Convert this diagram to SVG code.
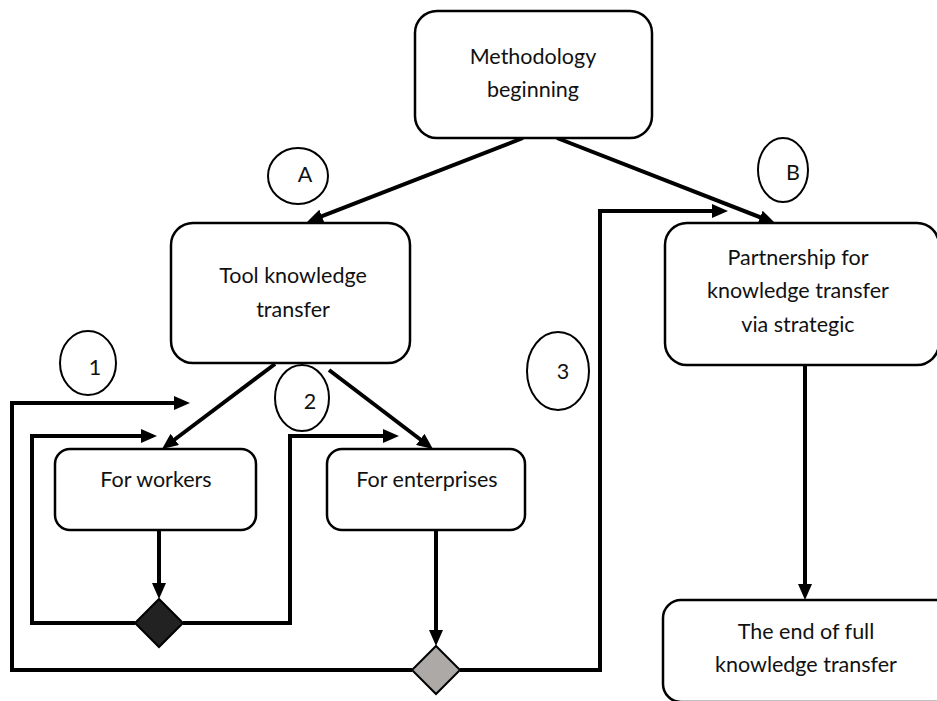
<svg xmlns="http://www.w3.org/2000/svg" width="937" height="701" viewBox="0 0 937 701">
  <style>
    .box { fill: #ffffff; stroke: #000000; stroke-width: 2.5; }
    .tag { fill: #ffffff; stroke: #000000; stroke-width: 2; }
    .lbl { font-family: Lato, "Open Sans", "Liberation Sans", sans-serif; font-size: 21.5px; fill: #111111; text-anchor: middle; }
    .flow { fill: none; stroke: #000000; stroke-width: 4; stroke-linejoin: miter; marker-end: url(#head); }
    .dec-dark { fill: #222222; stroke: #000000; stroke-width: 2; }
    .dec-grey { fill: #aca9a7; stroke: #000000; stroke-width: 2; }
  </style>
  <defs>
    <marker id="head" markerUnits="userSpaceOnUse" markerWidth="16" markerHeight="14" refX="6" refY="7" orient="auto">
      <path d="M0,0 L16,7 L0,14 z" fill="#000000"/>
    </marker>
  </defs>

  <rect width="937" height="701" fill="#ffffff"/>

  <!-- connectors -->
  <g id="connectors">
    <path class="flow" d="M523,138 L316.3,218.4"/>
    <path class="flow" d="M557,138 L765.7,219.4"/>
    <path class="flow" d="M275,364 L170,443"/>
    <path class="flow" d="M329,370 L425,443"/>
    <path class="flow" d="M159,530 V589"/>
    <path class="flow" d="M436,530 V636"/>
    <path class="flow" d="M805,365 V590"/>
    <path class="flow" d="M135,623 H32 V436 H147"/>
    <path class="flow" d="M183,623 H290 V436 H389"/>
    <path class="flow" d="M412,670 H12 V403 H180"/>
    <path class="flow" d="M460,670 H600 V211 H718"/>
  </g>

  <!-- nodes -->
  <g id="methodology-beginning">
    <rect class="box" x="415" y="11" width="237" height="127" rx="22"/>
    <text class="lbl" x="533" y="64">Methodology</text>
    <text class="lbl" x="533" y="97">beginning</text>
  </g>

  <g id="tool-knowledge-transfer">
    <rect class="box" x="171" y="223" width="239" height="140" rx="22"/>
    <text class="lbl" x="293" y="283">Tool knowledge</text>
    <text class="lbl" x="293" y="317">transfer</text>
  </g>

  <g id="partnership">
    <rect class="box" x="665" y="223" width="274" height="142" rx="22"/>
    <text class="lbl" x="798" y="265">Partnership for</text>
    <text class="lbl" x="798" y="298">knowledge transfer</text>
    <text class="lbl" x="798" y="332">via strategic</text>
  </g>

  <g id="for-workers">
    <rect class="box" x="55" y="449" width="201" height="81" rx="15"/>
    <text class="lbl" x="156" y="487">For workers</text>
  </g>

  <g id="for-enterprises">
    <rect class="box" x="327" y="449" width="198" height="81" rx="15"/>
    <text class="lbl" x="427" y="487">For enterprises</text>
  </g>

  <g id="end-of-transfer">
    <rect class="box" x="663" y="600" width="290" height="102" rx="18"/>
    <text class="lbl" x="806" y="639">The end of full</text>
    <text class="lbl" x="806" y="672">knowledge transfer</text>
  </g>

  <g id="decision-workers">
    <path class="dec-dark" d="M159,599 L183,623 L159,647 L135,623 z"/>
  </g>

  <g id="decision-enterprises">
    <path class="dec-grey" d="M436,646 L460,670 L436,694 L412,670 z"/>
  </g>

  <g id="tag-a">
    <ellipse class="tag" cx="298" cy="176" rx="30" ry="28"/>
    <text class="lbl" x="305" y="182">A</text>
  </g>

  <g id="tag-b">
    <ellipse class="tag" cx="783" cy="170" rx="25" ry="32"/>
    <text class="lbl" x="793" y="180">B</text>
  </g>

  <g id="tag-1">
    <ellipse class="tag" cx="88" cy="363" rx="28" ry="32"/>
    <text class="lbl" x="95" y="375">1</text>
  </g>

  <g id="tag-2">
    <ellipse class="tag" cx="302" cy="398" rx="27" ry="33"/>
    <text class="lbl" x="310" y="409">2</text>
  </g>

  <g id="tag-3">
    <ellipse class="tag" cx="558" cy="371" rx="31" ry="39"/>
    <text class="lbl" x="563" y="379">3</text>
  </g>
</svg>
